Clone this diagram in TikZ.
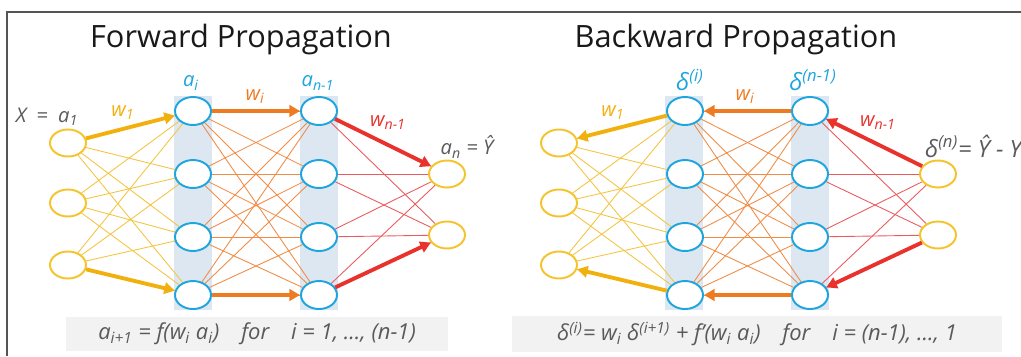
\documentclass[tikz,border=0pt]{standalone}
\usepackage{fontspec}
\setmainfont{Open Sans}
\usetikzlibrary{arrows.meta, shapes.geometric, backgrounds}

\definecolor{nnyellow}{HTML}{F5C32B}
\definecolor{nnamber}{HTML}{F2B00E}
\definecolor{nnyellowl}{HTML}{F4C542}
\definecolor{nnorange}{HTML}{EE7B22}
\definecolor{nnorangel}{HTML}{F08C45}
\definecolor{nnred}{HTML}{E8322B}
\definecolor{nnredl}{HTML}{EA5A5F}
\definecolor{nnblue}{HTML}{1EA5DE}
\definecolor{nnband}{HTML}{DCE7F1}
\definecolor{nngray}{HTML}{5A5A5A}
\definecolor{nnbox}{HTML}{F2F2F2}
\definecolor{nnframe}{HTML}{555555}

\begin{document}
\begin{tikzpicture}[
    x=0.02cm, y=-0.02cm,
    neuron/.style={ellipse, draw, fill=white, line width=1.1pt, minimum width=0.72cm, minimum height=0.54cm, inner sep=0pt},
    io/.style={neuron, draw=nnyellow},
    hid/.style={neuron, draw=nnblue, minimum height=0.56cm},
    wire/.style={line width=0.5pt},
    heavy/.style={line width=2.2pt, -{Triangle[length=6pt,width=6.5pt]}},
    lbl/.style={font=\itshape\fontsize{11.5}{13}\selectfont, inner sep=1pt},
    dlbl/.style={font=\itshape\fontsize{13.5}{15}\selectfont, inner sep=1pt},
    title/.style={font=\fontsize{17.5}{20}\selectfont, text=black!90},
    formula/.style={fill=nnbox, text=nngray, minimum height=0.64cm, font=\itshape\fontsize{12.5}{14}\selectfont}
  ]
  \useasboundingbox (0,0) rectangle (1021,356);

  % frame
  \draw[line width=0.9pt, nnframe] (7,356) -- (7,12) -- (1021,12);

  % Titles
  \node[title] (tfwd) at (241,40) {Forward Propagation};
  \node[title] (tbwd) at (736,40) {Backward Propagation};

  % Forward network
  \foreach \i/\y in {1/143,2/203,3/265} \node[io] (fx\i) at (68,\y) {};
  \foreach \i/\y in {1/111,2/174,3/237,4/295} {
    \node[hid] (fa\i) at (193,\y) {};
    \node[hid] (fb\i) at (319,\y) {};
  }
  \foreach \i/\y in {1/174,2/235} \node[io] (fy\i) at (447,\y) {};

  % Backward network
  \foreach \i/\y in {1/143,2/203,3/265} \node[io] (bx\i) at (559,\y) {};
  \foreach \i/\y in {1/111,2/174,3/237,4/295} {
    \node[hid] (ba\i) at (685,\y) {};
    \node[hid] (bb\i) at (810,\y) {};
  }
  \foreach \i/\y in {1/174,2/235} \node[io] (by\i) at (938,\y) {};

  % Bands and thin weights
  \begin{pgfonlayer}{background}
    \foreach \c in {174,300,665,791} \fill[nnband] (\c,96) rectangle +(38,214);
    \foreach \p in {f,b} {
      \foreach \i in {1,2,3} \foreach \j in {1,...,4} \draw[wire, nnyellowl] (\p x\i) -- (\p a\j);
      \foreach \i in {1,...,4} \foreach \j in {1,...,4} \draw[wire, nnorangel] (\p a\i) -- (\p b\j);
      \foreach \i in {1,...,4} \foreach \j in {1,2} \draw[wire, nnredl] (\p b\i) -- (\p y\j);
    }
  \end{pgfonlayer}

  % Forward arrows
  \draw[heavy, nnamber] (fx1) -- (fa1);
  \draw[heavy, nnamber] (fx3) -- (fa4);
  \draw[heavy, nnorange] (fa1) -- (fb1);
  \draw[heavy, nnorange] (fa4) -- (fb4);
  \draw[heavy, nnred] (fb1) -- (fy1);
  \draw[heavy, nnred] (fb4) -- (fy2);

  % Backward arrows
  \draw[heavy, nnamber] (ba1) -- (bx1);
  \draw[heavy, nnamber] (ba4) -- (bx3);
  \draw[heavy, nnorange] (bb1) -- (ba1);
  \draw[heavy, nnorange] (bb4) -- (ba4);
  \draw[heavy, nnred] (by1) -- (bb1);
  \draw[heavy, nnred] (by2) -- (bb4);

  % Forward labels
  \node[lbl, nngray] (lx) at (47,117) {X\enspace=\enspace a\textsubscript{1}};
  \node[lbl, nnamber] (lfw1) at (123,113) {w\textsubscript{1}};
  \node[lbl, nnorange] (lfwi) at (255,97) {w\textsubscript{i}};
  \node[lbl, nnred] (lfwn) at (388,123) {w\textsubscript{n-1}};
  \node[lbl, nnblue] (lai) at (191,83) {a\textsubscript{i}};
  \node[lbl, nnblue] (lan) at (318,83) {a\textsubscript{n-1}};
  \node[lbl, nngray] (ly) at (467,147) {a\textsubscript{n} = \^{Y}};

  % Backward labels
  \node[lbl, nnamber] (lbw1) at (613,113) {w\textsubscript{1}};
  \node[lbl, nnorange] (lbwi) at (745,97) {w\textsubscript{i}};
  \node[lbl, nnred] (lbwn) at (878,123) {w\textsubscript{n-1}};
  \node[dlbl, nnblue] (ldi) at (690,80) {δ\textsuperscript{(i)}};
  \node[dlbl, nnblue] (ldn) at (813,80) {δ\textsuperscript{(n-1)}};
  \node[dlbl, nngray, anchor=west] (lerr) at (923,146) {δ\textsuperscript{(n)}= \^{Y} - Y};

  % Formulas
  \node[formula, minimum width=7.64cm] (ffwd) at (257,334)
    {a\textsubscript{i+1} = f(w\textsubscript{i} a\textsubscript{i})\quad for\quad i = 1, ..., (n-1)};
  \node[formula, minimum width=9.8cm] (fbwd) at (757,334)
    {δ\textsuperscript{(i)}= w\textsubscript{i} δ\textsuperscript{(i+1)} + f'(w\textsubscript{i} a\textsubscript{i})\quad for\quad i = (n-1), ..., 1};
\end{tikzpicture}
\end{document}
